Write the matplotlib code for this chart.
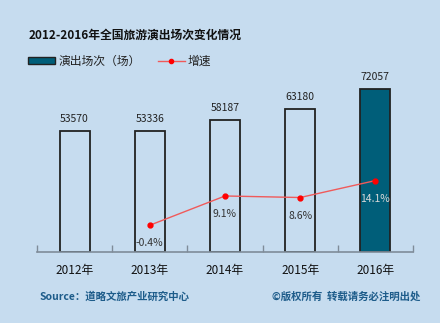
import matplotlib
matplotlib.use("Agg")
import matplotlib.pyplot as plt
from matplotlib.patches import Patch
from matplotlib.lines import Line2D

plt.rcParams["font.family"] = ["Noto Sans CJK SC", "DejaVu Sans"]

# data
years = ["2012年", "2013年", "2014年", "2015年", "2016年"]
shows = [53570, 53336, 58187, 63180, 72057]
growth_years = [1, 2, 3, 4]
growth = [-0.4, 9.1, 8.6, 14.1]
growth_labels = ["-0.4%", "9.1%", "8.6%", "14.1%"]

bg = "#c6dcef"
teal = "#005e79"
src_color = "#1d5c8a"

fig = plt.figure(figsize=(4.4, 3.23), dpi=100, facecolor=bg)
ax = fig.add_axes([0.0841, 0.2207, 0.8545, 0.5625])
ax.set_facecolor("none")

x = list(range(len(years)))
fills = ["none"] * (len(years) - 1) + [teal]
ax.bar(x, shows, width=0.4, color=fills, edgecolor="#222222", linewidth=1.3)
for xi, v in zip(x, shows):
    ax.text(xi, v + 3000, str(v), ha="center", va="bottom", fontsize=7.5, color="#222222")

ax.set_xlim(-0.5, 4.5)
ax.set_ylim(0, 80400)
ax.set_xticks([i - 0.5 for i in range(len(years) + 1)])
ax.set_xticklabels([])
ax.set_xticks(x, minor=True)
ax.set_xticklabels(years, minor=True, fontsize=8.5, color="#111111")
ax.tick_params(axis="x", which="major", direction="in", length=5, color="#7f8c99", width=1)
ax.tick_params(axis="x", which="minor", length=0, pad=9)
ax.set_yticks([])
for s in ["top", "right", "left"]:
    ax.spines[s].set_visible(False)
ax.spines["bottom"].set_color("#7f8c99")
ax.spines["bottom"].set_linewidth(1.2)

ax2 = ax.twinx()
ax2.set_ylim(-9, 50)
ax2.plot(growth_years, growth, color="#f05a5a", linewidth=1, marker="o",
         markersize=3.5, markerfacecolor="#ff0000", markeredgecolor="#ff0000")
for xi, g, lab in zip(growth_years, growth, growth_labels):
    c = "#d8d8d8" if xi == 4 else "#333333"
    ax2.annotate(lab, (xi, g), xytext=(0, -18), textcoords="offset pixels",
                 ha="center", va="center", fontsize=7.5, color=c)
ax2.set_yticks([])
for s in ax2.spines.values():
    s.set_visible(False)

fig.text(0.064, 0.89, "2012-2016年全国旅游演出场次变化情况", fontsize=8.5,
         fontweight="bold", color="#111111", va="center")

handles = [Patch(facecolor=teal, edgecolor="#222222", linewidth=1),
           Line2D([0], [0], color="#f05a5a", linewidth=1, marker="o",
                  markersize=3, markerfacecolor="#ff0000", markeredgecolor="#ff0000")]
fig.legend(handles, ["演出场次（场）", "增速"], loc="center left",
           bbox_to_anchor=(0.064, 0.811), ncol=2, frameon=False, fontsize=8.5,
           handlelength=2.3, handleheight=0.5, handletextpad=0.25, columnspacing=1.45,
           borderpad=0, borderaxespad=0, labelcolor="#222222")

fig.text(0.091, 0.082, "Source：道略文旅产业研究中心", fontsize=7.5, fontweight="bold",
         color=src_color, va="center")
fig.text(0.955, 0.082, "©版权所有  转载请务必注明出处", fontsize=7.5, fontweight="bold",
         color=src_color, va="center", ha="right")

fig.savefig("out.png", dpi=100, facecolor=bg)
